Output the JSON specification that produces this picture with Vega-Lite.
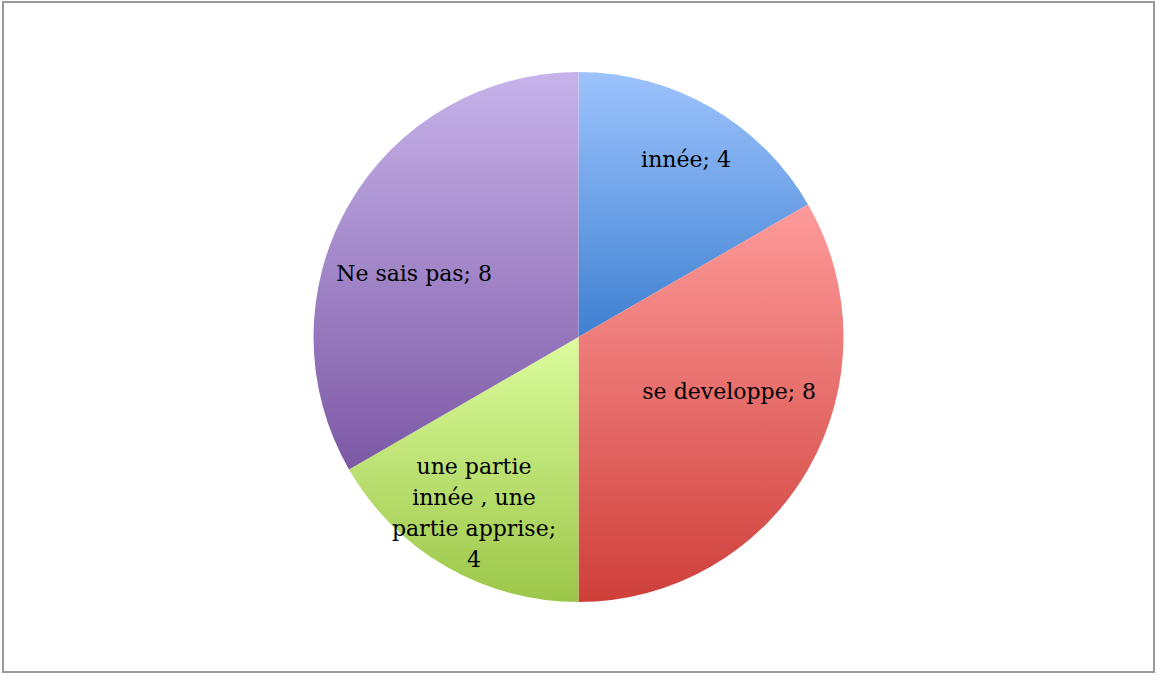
{
  "$schema": "https://vega.github.io/schema/vega-lite/v6.json",
  "width": 1157,
  "height": 682,
  "autosize": {"type": "fit", "contains": "padding"},
  "padding": {"left": 3, "top": 2, "right": 3, "bottom": 10},
  "background": "white",
  "view": {"stroke": "#9a9a9a", "strokeWidth": 2, "fill": "white"},
  "data": {
    "values": [
      {"cat": "innée", "value": 4, "order": 1, "label": "innée; 4"},
      {"cat": "se developpe", "value": 8, "order": 2, "label": "se developpe; 8"},
      {"cat": "une partie innée , une partie apprise", "value": 4, "order": 3, "label": "une partie\ninnée , une\npartie apprise;\n4"},
      {"cat": "Ne sais pas", "value": 8, "order": 4, "label": "Ne sais pas; 8"}
    ]
  },
  "encoding": {
    "theta": {"field": "value", "type": "quantitative", "stack": true},
    "order": {"field": "order", "type": "quantitative"}
  },
  "layer": [
    {
      "mark": {"type": "arc", "outerRadius": 265, "stroke": null},
      "encoding": {
        "color": {
          "condition": [
            {"test": "datum.cat === 'innée'", "value": {"gradient": "linear", "x1": 0, "y1": 0, "x2": 0, "y2": 1, "stops": [{"offset": 0, "color": "#9dc3fd"}, {"offset": 1, "color": "#3e80d1"}]}},
            {"test": "datum.cat === 'se developpe'", "value": {"gradient": "linear", "x1": 0, "y1": 0, "x2": 0, "y2": 1, "stops": [{"offset": 0, "color": "#fd9b9a"}, {"offset": 1, "color": "#cf3f3a"}]}},
            {"test": "datum.cat === 'Ne sais pas'", "value": {"gradient": "linear", "x1": 0, "y1": 0, "x2": 0, "y2": 1, "stops": [{"offset": 0, "color": "#c7b3ea"}, {"offset": 1, "color": "#7c58a5"}]}}
          ],
          "value": {"gradient": "linear", "x1": 0, "y1": 0, "x2": 0, "y2": 1, "stops": [{"offset": 0, "color": "#dcfc9d"}, {"offset": 1, "color": "#9cc649"}]}
        }
      }
    },
    {
      "mark": {"type": "text", "radius": 207, "dx": 4, "dy": 2, "font": "DejaVu Serif", "fontSize": 22, "color": "black", "align": "center", "baseline": "middle"},
      "encoding": {"text": {"condition": {"test": "datum.cat === 'innée'", "field": "label"}, "value": ""}}
    },
    {
      "mark": {"type": "text", "radius": 174, "dx": 0, "dy": -32, "font": "DejaVu Serif", "fontSize": 22, "color": "black", "align": "center", "baseline": "middle"},
      "encoding": {"text": {"condition": {"test": "datum.cat === 'se developpe'", "field": "label"}, "value": ""}}
    },
    {
      "mark": {"type": "text", "radius": 205, "dx": -2, "dy": -48, "font": "DejaVu Serif", "fontSize": 22, "lineHeight": 31, "color": "black", "align": "center", "baseline": "middle", "lineBreak": "\n"},
      "encoding": {"text": {"condition": {"test": "datum.cat === 'une partie innée , une partie apprise'", "field": "label"}, "value": ""}}
    },
    {
      "mark": {"type": "text", "radius": 176, "dx": -12, "dy": 25, "font": "DejaVu Serif", "fontSize": 22, "color": "black", "align": "center", "baseline": "middle"},
      "encoding": {"text": {"condition": {"test": "datum.cat === 'Ne sais pas'", "field": "label"}, "value": ""}}
    }
  ]
}
